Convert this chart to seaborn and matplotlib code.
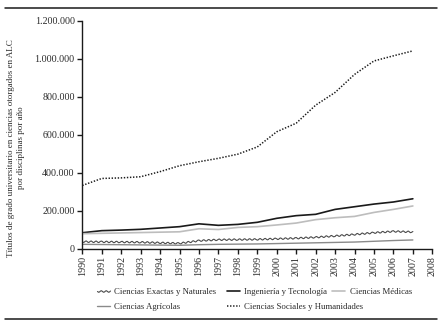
import matplotlib
matplotlib.use("Agg")
import matplotlib.pyplot as plt
from matplotlib.lines import Line2D
import seaborn as sns
import pandas as pd

# Degrees awarded per year, by discipline
years = list(range(1990, 2008))
exactas = [36000, 35000, 34000, 33000, 30000, 27000, 41000, 46000, 47000,
           48000, 51000, 54000, 59000, 66000, 74000, 83000, 90000, 87000]
ingenieria = [83000, 94000, 97000, 101000, 108000, 115000, 130000, 122000, 127000,
              138000, 159000, 173000, 180000, 206000, 220000, 234000, 245000, 262000]
medicas = [78000, 80000, 82000, 84000, 86000, 88000, 104000, 100000, 111000,
           115000, 124000, 134000, 152000, 162000, 169000, 190000, 206000, 224000]
agricolas = [22000, 21000, 20000, 19000, 18000, 17000, 20000, 22000, 23000,
             24000, 26000, 28000, 30000, 32000, 34000, 38000, 42000, 45000]
sociales = [332000, 369000, 372000, 378000, 405000, 436000, 457000, 475000, 497000,
            535000, 615000, 660000, 755000, 822000, 917000, 988000, 1015000, 1041000]

labels = ["Ciencias Exactas y Naturales", "Ingeniería y Tecnología",
          "Ciencias Médicas", "Ciencias Agrícolas",
          "Ciencias Sociales y Humanidades"]

x_ticks = list(range(1990, 2009))
y_ticks = [0, 200000, 400000, 600000, 800000, 1000000, 1200000]
y_ticklabels = ["0", "200.000", "400.000", "600.000", "800.000", "1.000.000", "1.200.000"]

df = pd.DataFrame({"year": years,
                   labels[0]: exactas, labels[1]: ingenieria, labels[2]: medicas,
                   labels[3]: agricolas, labels[4]: sociales})

sns.set_theme(style="white")
plt.rcParams["font.family"] = ["Liberation Serif", "DejaVu Serif"]
TXT = "#2a2a2a"

W, H = 445, 328
fig = plt.figure(figsize=(W / 100, H / 100), dpi=100)
ax = fig.add_axes([82.3 / W, 1 - 248.5 / H, (432.3 - 82.3) / W, (248.5 - 20.7) / H])

styles = {
    labels[0]: dict(color="#4a4a4a", lw=0.8),
    labels[1]: dict(color="#1a1a1a", lw=1.2),
    labels[2]: dict(color="#bdbdbd", lw=1.2),
    labels[3]: dict(color="#8a8a8a", lw=1.0),
    labels[4]: dict(color="#1a1a1a", lw=1.1, ls=(0, (0.9, 1.1))),
}

handles = {}
for name in labels:
    before = len(ax.lines)
    sns.lineplot(data=df, x="year", y=name, ax=ax, legend=False, **styles[name])
    handles[name] = ax.lines[before]

# wavy line for the natural sciences series
handles[labels[0]].set_sketch_params(scale=0.8, length=5, randomness=1)

ax.set_xlim(1990, 2008)
ax.set_ylim(0, 1200000)
ax.set_xticks(x_ticks)
ax.set_xticklabels([str(y) for y in x_ticks], rotation=90, fontsize=7.2, color=TXT)
ax.set_yticks(y_ticks)
ax.set_yticklabels(y_ticklabels, fontsize=7.2, color=TXT)
ax.set_xlabel("")
ax.set_ylabel("")
for side in ("top", "right"):
    ax.spines[side].set_visible(False)
for side in ("left", "bottom"):
    ax.spines[side].set_color("#1a1a1a")
    ax.spines[side].set_linewidth(1.0)
ax.tick_params(axis="both", which="both", direction="out", length=3.5, width=1.0,
               color="#1a1a1a", pad=2, left=True, bottom=True)

fig.text(16 / W, 1 - 148 / H,
         "Títulos de grado universitario en ciencias otorgados en ALC\npor disciplinas por año",
         rotation=90, ha="center", va="center", multialignment="center",
         fontsize=6.5, color=TXT, linespacing=1.35)

# legend laid out as three columns
columns = [([labels[0], labels[3]], 97), ([labels[1], labels[4]], 227), ([labels[2]], 332)]
for names, xpx in columns:
    fig.legend([handles[n] for n in names], names, loc="upper left",
               bbox_to_anchor=(xpx / W, 1 - 287.5 / H), frameon=False,
               fontsize=6.3, handlelength=1.5, handletextpad=0.5,
               borderpad=0, borderaxespad=0, labelspacing=0.8, labelcolor=TXT)

# rules framing the figure
fig.add_artist(Line2D([5 / W, 437 / W], [1 - 7.5 / H, 1 - 7.5 / H],
                      transform=fig.transFigure, color="#1a1a1a", lw=1.1))
fig.add_artist(Line2D([5 / W, 437 / W], [1 - 319 / H, 1 - 319 / H],
                      transform=fig.transFigure, color="#1a1a1a", lw=1.1))

fig.savefig("out.png", dpi=100)
